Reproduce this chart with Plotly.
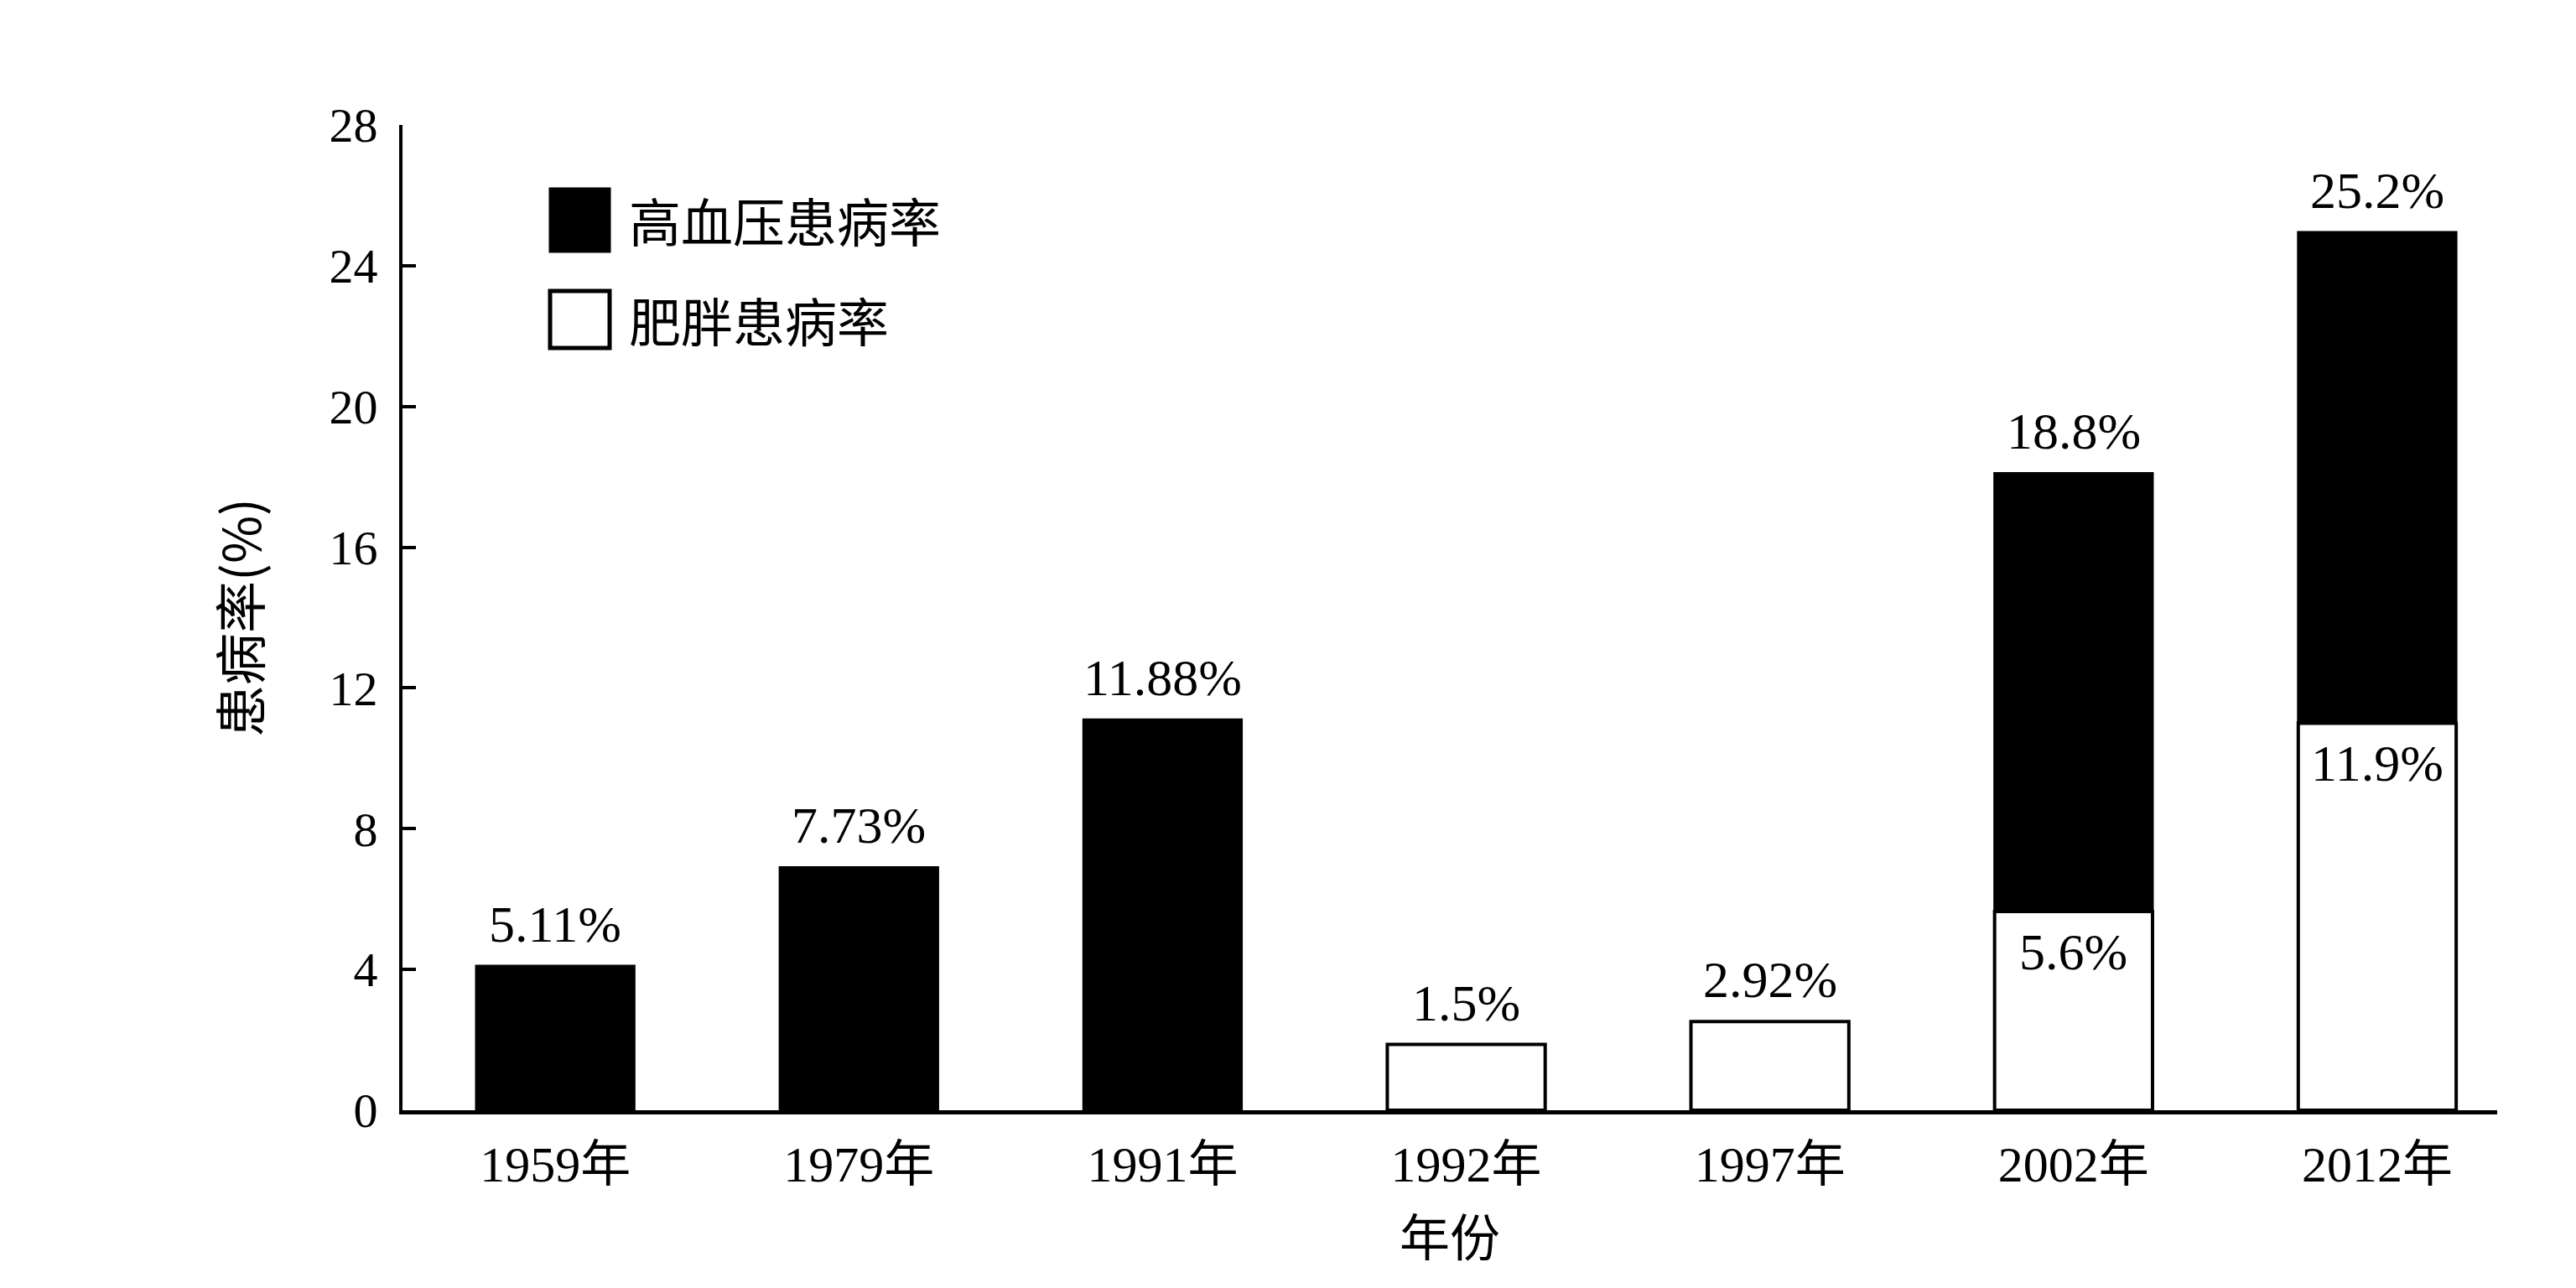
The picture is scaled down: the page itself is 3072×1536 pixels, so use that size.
import plotly.graph_objects as go

# ---- data ----
years = ["1959年", "1979年", "1991年", "1992年", "1997年", "2002年", "2012年"]
hypertension = [4.1, 6.9, 11.1, None, None, 18.1, 24.95]      # drawn bar heights
obesity = [None, None, None, 1.87, 2.52, 5.65, 11.0]           # drawn bar heights
hypertension_labels = ["5.11%", "7.73%", "11.88%", "", "", "18.8%", "25.2%"]
obesity_labels = ["", "", "", "1.5%", "2.92%", "5.6%", "11.9%"]
y_ticks = [0, 4, 8, 12, 16, 20, 24, 28]
legend_names = ["高血压患病率", "肥胖患病率"]

W, H = 3072, 1536
L, R, T, B = 480, 94, 149, 212
pw, ph = W - L - R, H - T - B

def px(x):
    return (x - L) / pw

def py(y):
    return (H - B - y) / ph

FONT = "Liberation Serif, 'Noto Sans CJK SC', serif"
CJK = "'Noto Sans CJK SC', sans-serif"
LABEL_SIZE = 62

fig = go.Figure()
fig.add_trace(go.Bar(x=years, y=hypertension, name=legend_names[0], width=0.52,
                     marker=dict(color="black", line=dict(color="black", width=3)),
                     showlegend=False))
fig.add_trace(go.Bar(x=years, y=obesity, name=legend_names[1], width=0.52,
                     marker=dict(color="white", line=dict(color="black", width=4)),
                     showlegend=False))

annotations = []
for cat, v, lab in zip(years, hypertension, hypertension_labels):
    if v is not None and lab:
        annotations.append(dict(x=cat, y=v, xref="x", yref="y", text=lab, showarrow=False,
                                yanchor="bottom", yshift=14,
                                font=dict(size=LABEL_SIZE, family=FONT, color="black")))
for cat, v, lab, hv in zip(years, obesity, obesity_labels, hypertension):
    if v is not None and lab:
        if hv is None:
            annotations.append(dict(x=cat, y=v, xref="x", yref="y", text=lab, showarrow=False,
                                    yanchor="bottom", yshift=14,
                                    font=dict(size=LABEL_SIZE, family=FONT, color="black")))
        else:
            annotations.append(dict(x=cat, y=v, xref="x", yref="y", text=lab, showarrow=False,
                                    yanchor="top", yshift=-12,
                                    font=dict(size=LABEL_SIZE, family=FONT, color="black")))

# legend drawn manually (large swatches as in the reference)
shapes = [
    dict(type="rect", xref="paper", yref="paper", x0=px(656), x1=px(727), y0=py(300), y1=py(225),
         fillcolor="black", line=dict(color="black", width=3)),
    dict(type="rect", xref="paper", yref="paper", x0=px(656), x1=px(727), y0=py(415), y1=py(347),
         fillcolor="white", line=dict(color="black", width=5)),
]
annotations.append(dict(xref="paper", yref="paper", x=px(748), y=py(262), text=legend_names[0],
                        showarrow=False, xanchor="left", yanchor="middle",
                        font=dict(size=62, family=CJK, color="black")))
annotations.append(dict(xref="paper", yref="paper", x=px(748), y=py(381), text=legend_names[1],
                        showarrow=False, xanchor="left", yanchor="middle",
                        font=dict(size=62, family=CJK, color="black")))

fig.update_layout(
    width=W, height=H,
    margin=dict(l=L, r=R, t=T, b=B, autoexpand=False),
    paper_bgcolor="white", plot_bgcolor="white",
    barmode="overlay",
    font=dict(family=FONT, color="black"),
    shapes=shapes,
    annotations=annotations,
    xaxis=dict(type="category", range=[-0.503, 6.395], showline=True, linecolor="black",
               linewidth=5, ticks="", showgrid=False, zeroline=False,
               tickfont=dict(size=60, family=FONT, color="black"),
               ticklabelstandoff=8,
               title=dict(text="年份", font=dict(size=60, family=CJK, color="black"), standoff=36)),
    yaxis=dict(range=[0, 28], tickvals=y_ticks, showline=True, linecolor="black", linewidth=4,
               ticks="inside", ticklen=16, tickwidth=4, tickcolor="black",
               showgrid=False, zeroline=False,
               tickfont=dict(size=58, family=FONT, color="black"),
               ticklabelstandoff=14,
               title=dict(text="患病率(%)", font=dict(size=62, family=CJK, color="black"), standoff=62)),
)

fig.write_html("out.html")
